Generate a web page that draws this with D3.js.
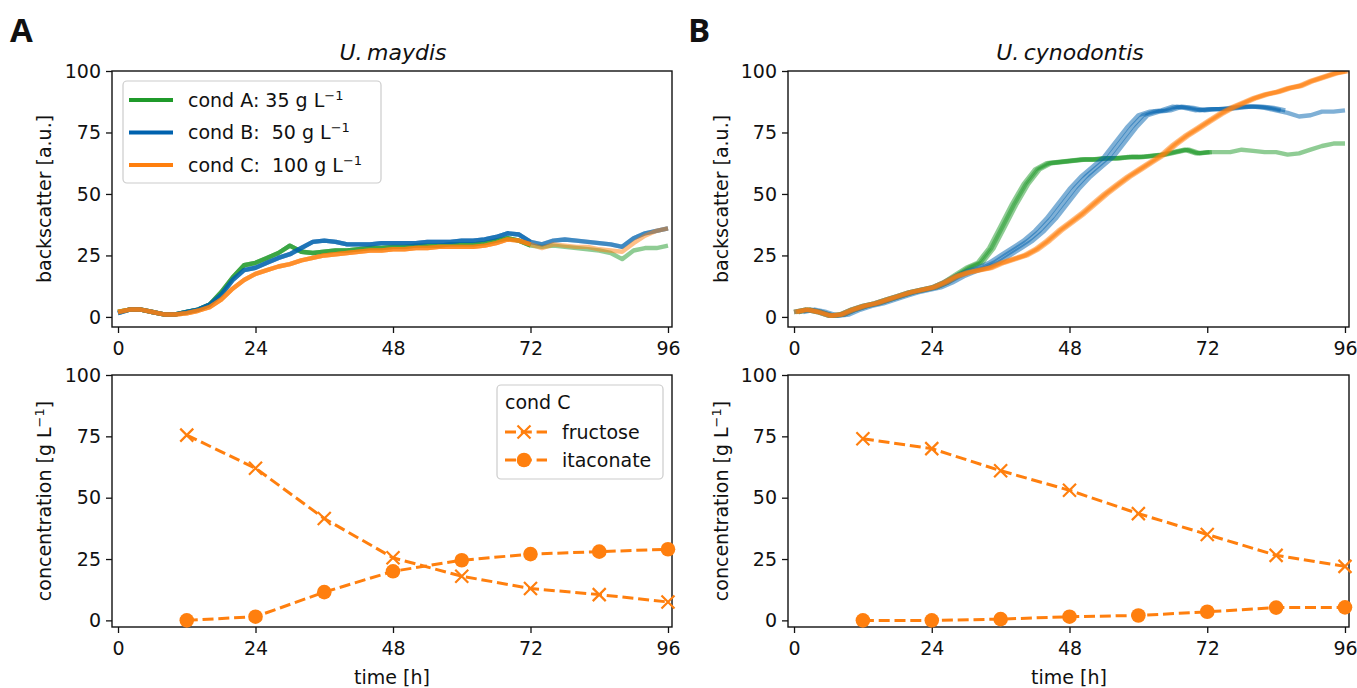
<!DOCTYPE html>
<html lang="en">
<head>
<meta charset="utf-8">
<title>Backscatter and concentration</title>
<script src="https://cdnjs.cloudflare.com/ajax/libs/d3/7.8.5/d3.min.js"></script>
<style>
  body { margin: 0; background: #fff; }
  text { font-family: "DejaVu Sans", sans-serif; fill: #111; }
</style>
</head>
<body>
<script>
// ---- data ----
// backscatter sampled every 2 h, read from the figure
var timeGrid = d3.range(0, 97, 2);

var maydisA = [2,3,3,2,1,1,2,3,5,10,16,21,22,24,26,29,26.5,26,26.5,27,27,27.5,28,28,28.5,28.5,29,29,29,29.5,29.5,29.5,30,31,32,31,29,28.5,29,28.5,28,27.5,27,26,23.5,27,28,28,29];
var maydisB = [1.5,3,3,2,1,1,2,3,5,9,15,19,20,22,24,25.5,28,30.5,31,30.5,29.5,29.5,29.5,30,30,30,30,30.5,30.5,30.5,31,31,31.5,32.5,34,33.5,30.5,29.5,31,31.5,31,30.5,30,29.5,28.5,32,34,35,36];
var maydisC = [2,3,3,2,1,1,1.5,2.5,4,7,11.5,15,17.5,19,20.5,21.5,23,24,25,25.5,26,26.5,27,27,27.5,27.5,28,28,28.5,28.5,28.5,28.5,29,30,31.5,31,29.5,28,29.5,29,28.5,28.5,27.5,27,26.5,30,33,35,36];

var cynoA = [2,3,2,0.5,1,3,4.5,5.5,7,8.5,10,11,12,14,17,20,22,28,37,46,54,60,62.5,63,63.5,64,64,64.5,64.5,65,65,65.5,66,67,68,66.5,67,67,67,68,67.5,67,67,66,66.5,68,69.5,70.5,70.5];
var cynoB = [2,3,2,0.5,1,3,4.5,5.5,7,8.5,10,11,12,14,16.5,18.5,20,22,25,28,31,35,40,46,52,57,61,65,71,77,82,83.5,84,85.5,85,84,84.5,84.5,85,85.5,85.5,85,84,83,81.5,82,83.5,83.5,84];
var cynoC = [2,3,2,0.5,1,3,4.5,5.5,7,8.5,10,11,12,14,16.5,18,19,20,22,23.5,25,27.5,31,35,38.5,42,46,50,53.5,57,60,63,66,70,73.5,76.5,79.5,82.5,85,87,89,90.5,91.5,93,94,96,97.5,99,100];

// replicate end times [h] and lags [h]
var repEndA = [[96, 72, 72], [96, 96, 72], [96, 72, 72]];
var repLagA = [[0, 0, 0], [0, 0, 0], [0, 0, 0]];
var repEndB = [[96, 72, 72], [96, 84, 84], [96, 96, 96]];
var repLagB = [[0, 0.4, 0.8], [0, 0.8, 1.6], [0, 0.3, 0.6]];

// HPLC samples, cond C
var sampleTimes = [12, 24, 36, 48, 60, 72, 84, 96];
var fructoseA = [75.5, 62, 41.5, 25.5, 18, 13, 10.5, 7.5];
var itaconateA = [0, 1.5, 11.5, 20, 24.5, 27, 28, 29];
var fructoseB = [74, 70, 61, 53, 43.5, 35, 26.5, 22];
var itaconateB = [0, 0, 0.5, 1.5, 2, 3.5, 5.2, 5.3];

var condNames = ["cond A: 35 g L", "cond B:  50 g L", "cond C:  100 g L"];
var condColors = ["#1f9a2a", "#0062ae", "#ff7f0e"];
var xTicks = [0, 24, 48, 72, 96];
var yTicks = [0, 25, 50, 75, 100];

// ---- layout ----
var W = 1357, H = 688;
var svg = d3.select("body").append("svg").attr("width", W).attr("height", H);

var fs = 19;

function makeAxes(x0, x1, y0, y1, yDomain) {
  var x = d3.scaleLinear().domain([-1.05, 96.7]).range([x0, x1]);
  var y = d3.scaleLinear().domain(yDomain).range([y1, y0]);
  var g = svg.append("g");
  var clipId = "clip" + Math.round(x0) + "_" + Math.round(y0);
  g.append("clipPath").attr("id", clipId)
    .append("rect").attr("x", x0).attr("y", y0).attr("width", x1 - x0).attr("height", y1 - y0);
  var plot = g.append("g").attr("clip-path", "url(#" + clipId + ")");

  var xa = g.append("g").attr("transform", "translate(0," + y1 + ")")
    .call(d3.axisBottom(x).tickValues(xTicks).tickSize(6).tickPadding(5));
  var ya = g.append("g").attr("transform", "translate(" + x0 + ",0)")
    .call(d3.axisLeft(y).tickValues(yTicks).tickSize(6).tickPadding(5));
  [xa, ya].forEach(function(a) {
    a.select(".domain").remove();
    a.selectAll("line").attr("stroke", "#111").attr("stroke-width", 1.3);
    a.selectAll("text").style("font-size", fs + "px").attr("fill", "#111");
  });
  xa.selectAll("text").attr("dy", "0.9em");
  g.append("rect").attr("x", x0).attr("y", y0).attr("width", x1 - x0).attr("height", y1 - y0)
    .attr("fill", "none").attr("stroke", "#111").attr("stroke-width", 1.4);
  return {x: x, y: y, g: g, plot: plot};
}

function yLabel(xpos, ymid, parts) {
  var t = svg.append("text").attr("transform", "translate(" + xpos + "," + ymid + ") rotate(-90)")
    .attr("text-anchor", "middle").style("font-size", fs + "px");
  parts.forEach(function(p) {
    var ts = t.append("tspan").text(p[0]);
    if (p[1]) ts.attr("baseline-shift", "super").style("font-size", "13px");
  });
}

function drawTop(ax, series, ends, lags) {
  series.forEach(function(vals, ci) {
    ends[ci].forEach(function(endT, ri) {
      var pts = timeGrid.map(function(t, i) { return [t + lags[ci][ri], vals[i], t]; })
        .filter(function(p) { return p[2] <= endT; });
      ax.plot.append("path").datum(pts)
        .attr("fill", "none").attr("stroke", condColors[ci])
        .attr("stroke-width", 4.4).attr("stroke-opacity", 0.5)
        .attr("stroke-linejoin", "round")
        .attr("d", d3.line().x(function(p) { return ax.x(p[0]); }).y(function(p) { return ax.y(p[1]); }));
    });
  });
}

function xMarker(g, cx, cy, s) {
  g.append("path").attr("d", "M" + (cx - s) + "," + (cy - s) + "L" + (cx + s) + "," + (cy + s) +
      "M" + (cx - s) + "," + (cy + s) + "L" + (cx + s) + "," + (cy - s))
    .attr("stroke", "#ff7f0e").attr("stroke-width", 2.2).attr("fill", "none");
}

function drawBottom(ax, fru, ita) {
  var line = d3.line().x(function(d, i) { return ax.x(sampleTimes[i]); }).y(function(d) { return ax.y(d); });
  [fru, ita].forEach(function(vals) {
    ax.g.append("path").datum(vals).attr("d", line)
      .attr("fill", "none").attr("stroke", "#ff7f0e").attr("stroke-width", 3)
      .attr("stroke-dasharray", "11,4.8");
  });
  fru.forEach(function(v, i) { xMarker(ax.g, ax.x(sampleTimes[i]), ax.y(v), 6.5); });
  ax.g.selectAll(null).data(ita).enter().append("circle")
    .attr("cx", function(d, i) { return ax.x(sampleTimes[i]); })
    .attr("cy", function(d) { return ax.y(d); })
    .attr("r", 7.3).attr("fill", "#ff7f0e");
}

// panels
var topA = makeAxes(112, 672, 71, 327, [-4.1, 100]);
var topB = makeAxes(788, 1349, 71, 327, [-4.1, 100]);
var botA = makeAxes(112, 672, 375, 627, [-2.7, 100]);
var botB = makeAxes(788, 1349, 375, 627, [-2.7, 100]);

drawTop(topA, [maydisA, maydisB, maydisC], repEndA, repLagA);
drawTop(topB, [cynoA, cynoB, cynoC], repEndB, repLagB);
drawBottom(botA, fructoseA, itaconateA);
drawBottom(botB, fructoseB, itaconateB);

// axis labels
yLabel(51, 199, [["backscatter [a.u.]"]]);
yLabel(728, 199, [["backscatter [a.u.]"]]);
yLabel(51, 501, [["concentration [g L"], ["\u22121", true], ["]"]]);
yLabel(728, 501, [["concentration [g L"], ["\u22121", true], ["]"]]);
[392, 1069].forEach(function(cx) {
  svg.append("text").attr("x", cx).attr("y", 684).attr("text-anchor", "middle")
    .style("font-size", fs + "px").text("time [h]");
});

// titles
[[393, "U", "maydis"], [1070, "U", "cynodontis"]].forEach(function(d) {
  svg.append("text").attr("x", d[0]).attr("y", 60).attr("text-anchor", "middle")
    .style("font-size", "22px").style("font-style", "italic")
    .text(d[1] + ".\u2009" + d[2]);
});

// panel letters
[[10, "A"], [688, "B"]].forEach(function(d) {
  svg.append("text").attr("x", d[0]).attr("y", 42).text(d[1])
    .style("font-family", "'Open Sans', sans-serif").style("font-weight", "bold").style("font-size", "33px");
});

// legend, top left
var leg = svg.append("g");
leg.append("rect").attr("x", 123).attr("y", 81).attr("width", 258).attr("height", 102).attr("rx", 4)
  .attr("fill", "#fff").attr("fill-opacity", 0.8).attr("stroke", "#ccc").attr("stroke-width", 1.2);
condNames.forEach(function(name, i) {
  var yy = 100 + i * 32.5;
  leg.append("line").attr("x1", 129).attr("x2", 173).attr("y1", yy).attr("y2", yy)
    .attr("stroke", condColors[i]).attr("stroke-width", 4);
  var t = leg.append("text").attr("x", 188).attr("y", yy).attr("dy", "0.36em")
    .style("font-size", fs + "px").style("white-space", "pre");
  t.append("tspan").text(name);
  t.append("tspan").attr("baseline-shift", "super").style("font-size", "13px").text("\u22121");
});

// legend, bottom left
var leg2 = svg.append("g");
leg2.append("rect").attr("x", 497).attr("y", 385).attr("width", 166).attr("height", 94).attr("rx", 4)
  .attr("fill", "#fff").attr("fill-opacity", 0.8).attr("stroke", "#ccc").attr("stroke-width", 1.2);
leg2.append("text").attr("x", 505).attr("y", 402).attr("dy", "0.36em").style("font-size", fs + "px").text("cond C");
[["fructose", 432], ["itaconate", 460]].forEach(function(d, i) {
  leg2.append("line").attr("x1", 505).attr("x2", 547).attr("y1", d[1]).attr("y2", d[1])
    .attr("stroke", "#ff7f0e").attr("stroke-width", 3).attr("stroke-dasharray", "11,4.8");
  if (i === 0) xMarker(leg2, 524, d[1], 6.5);
  else leg2.append("circle").attr("cx", 524).attr("cy", d[1]).attr("r", 7.3).attr("fill", "#ff7f0e");
  leg2.append("text").attr("x", 562).attr("y", d[1]).attr("dy", "0.36em").style("font-size", fs + "px").text(d[0]);
});
</script>
</body>
</html>
